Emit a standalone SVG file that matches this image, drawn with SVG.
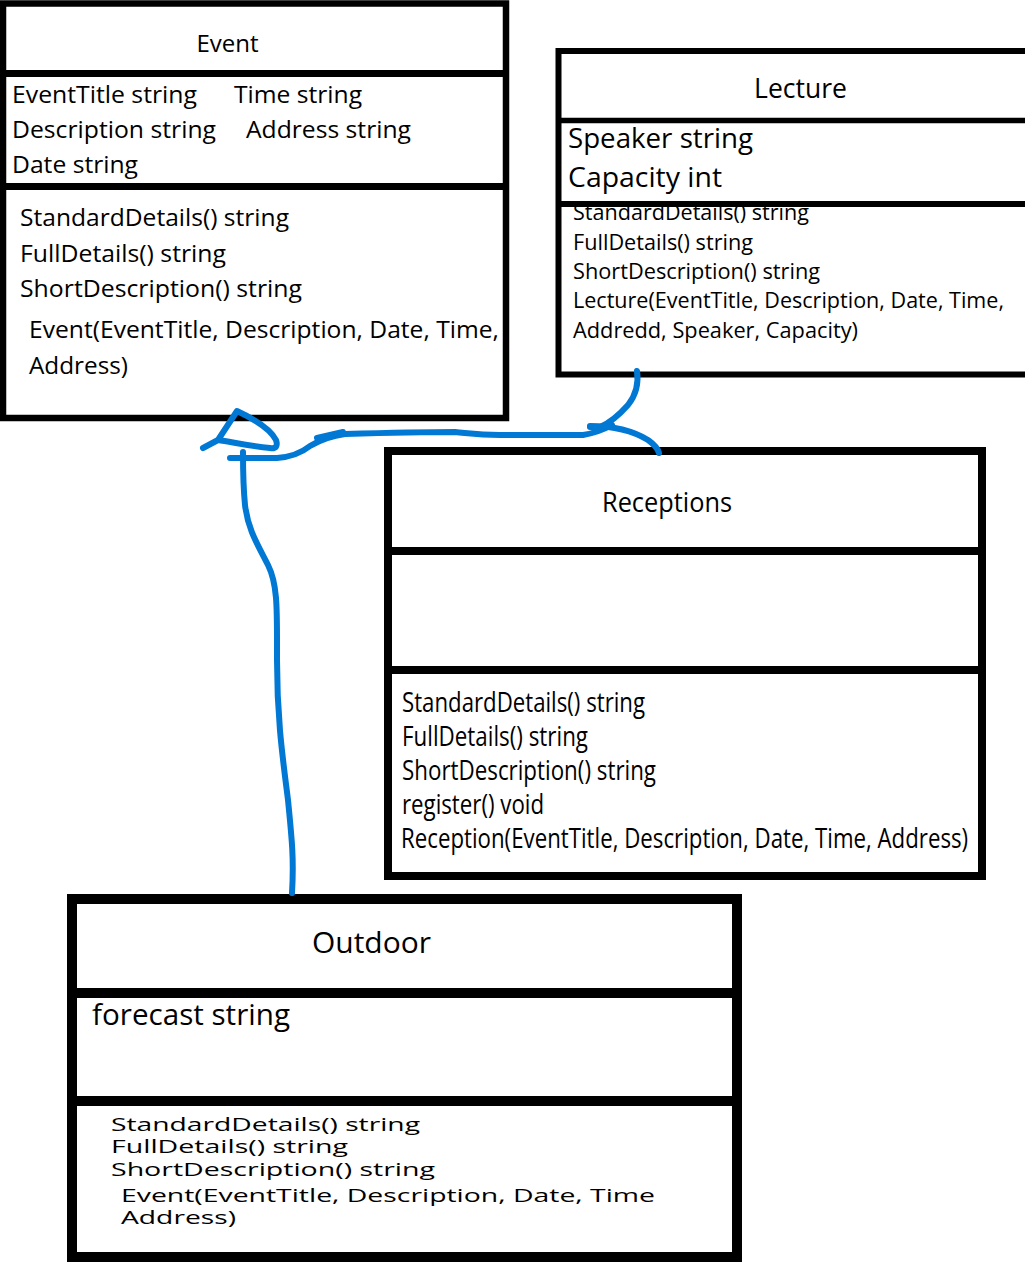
<svg xmlns="http://www.w3.org/2000/svg" width="1025" height="1265" viewBox="0 0 1025 1265">
<style>
  text { font-family: "Open Sans", "Noto Sans", "Liberation Sans", sans-serif; fill: #000; }
  .bg { fill: #fff; stroke: none; }
  .frame { fill: none; stroke: #000; }
  .ink { fill: none; stroke: #0078D4; stroke-width: 6; stroke-linecap: round; stroke-linejoin: round; }
</style>
<rect x="0" y="0" width="1025" height="1265" fill="#fff"/>

<g id="event">
  <rect class="bg" x="3" y="3.5" width="503" height="414.5"/>
  <text x="227.5" y="52" font-size="24" text-anchor="middle">Event</text>
  <text x="12" y="103" font-size="24.5" textLength="185" lengthAdjust="spacingAndGlyphs">EventTitle string</text>
  <text x="234" y="103" font-size="24.5" textLength="128" lengthAdjust="spacingAndGlyphs">Time string</text>
  <text x="12" y="138" font-size="24.5" textLength="204" lengthAdjust="spacingAndGlyphs">Description string</text>
  <text x="246" y="138" font-size="24.5" textLength="165" lengthAdjust="spacingAndGlyphs">Address string</text>
  <text x="12" y="173" font-size="24.5" textLength="126" lengthAdjust="spacingAndGlyphs">Date string</text>
  <text x="20" y="226" font-size="24.5" textLength="269" lengthAdjust="spacingAndGlyphs">StandardDetails() string</text>
  <text x="20" y="262" font-size="24.5" textLength="206" lengthAdjust="spacingAndGlyphs">FullDetails() string</text>
  <text x="20" y="297" font-size="24.5" textLength="282" lengthAdjust="spacingAndGlyphs">ShortDescription() string</text>
  <text x="29" y="338" font-size="24.5" textLength="470" lengthAdjust="spacingAndGlyphs">Event(EventTitle, Description, Date, Time,</text>
  <text x="29" y="374" font-size="24.5" textLength="99" lengthAdjust="spacingAndGlyphs">Address)</text>
  <rect class="frame" stroke-width="6.5" x="3" y="3.5" width="503" height="414.5"/>
  <line class="frame" stroke-width="7" x1="3" y1="73.5" x2="506" y2="73.5"/>
  <line class="frame" stroke-width="7" x1="3" y1="186.5" x2="506" y2="186.5"/>
</g>

<g id="lecture">
  <rect class="bg" x="558.5" y="51" width="480" height="323.5"/>
  <text x="800.5" y="98" font-size="26.5" text-anchor="middle">Lecture</text>
  <text x="568" y="148" font-size="27.5" textLength="185" lengthAdjust="spacingAndGlyphs">Speaker string</text>
  <text x="568" y="187" font-size="27.5" textLength="154" lengthAdjust="spacingAndGlyphs">Capacity int</text>
  <text x="573" y="220" font-size="21.5" textLength="236" lengthAdjust="spacingAndGlyphs">StandardDetails() string</text>
  <text x="573" y="250" font-size="21.5" textLength="180" lengthAdjust="spacingAndGlyphs">FullDetails() string</text>
  <text x="573" y="279" font-size="21.5" textLength="247" lengthAdjust="spacingAndGlyphs">ShortDescription() string</text>
  <text x="573" y="308" font-size="21.5" textLength="431" lengthAdjust="spacingAndGlyphs">Lecture(EventTitle, Description, Date, Time,</text>
  <text x="573" y="338" font-size="21.5" textLength="285" lengthAdjust="spacingAndGlyphs">Addredd, Speaker, Capacity)</text>
  <rect class="frame" stroke-width="6" x="558.5" y="51" width="480" height="323.5"/>
  <line class="frame" stroke-width="5.5" x1="558.5" y1="120.5" x2="1030" y2="120.5"/>
  <line class="frame" stroke-width="6" x1="558.5" y1="204" x2="1030" y2="204"/>
</g>

<g id="receptions">
  <rect class="bg" x="388" y="451" width="594" height="425"/>
  <text x="602" y="512" font-size="26.5" textLength="130" lengthAdjust="spacingAndGlyphs">Receptions</text>
  <text x="402" y="712" font-size="27" textLength="243" lengthAdjust="spacingAndGlyphs">StandardDetails() string</text>
  <text x="402" y="746" font-size="27" textLength="186" lengthAdjust="spacingAndGlyphs">FullDetails() string</text>
  <text x="402" y="780" font-size="27" textLength="254" lengthAdjust="spacingAndGlyphs">ShortDescription() string</text>
  <text x="402" y="814" font-size="27" textLength="142" lengthAdjust="spacingAndGlyphs">register() void</text>
  <text transform="translate(401,848) scale(0.8,1)" x="0" y="0" font-size="27" textLength="709" lengthAdjust="spacingAndGlyphs">Reception(EventTitle, Description, Date, Time, Address)</text>
  <rect class="frame" stroke-width="8" x="388" y="451" width="594" height="425"/>
  <line class="frame" stroke-width="8" x1="388" y1="551" x2="982" y2="551"/>
  <line class="frame" stroke-width="8" x1="388" y1="670" x2="982" y2="670"/>
</g>

<g id="outdoor">
  <rect class="bg" x="72" y="899" width="665" height="358"/>
  <text x="312" y="953" font-size="30" textLength="119" lengthAdjust="spacingAndGlyphs">Outdoor</text>
  <text x="92" y="1025" font-size="29.5" textLength="198" lengthAdjust="spacingAndGlyphs">forecast string</text>
  <text x="111" y="1131" font-size="17.5" textLength="309" lengthAdjust="spacingAndGlyphs">StandardDetails() string</text>
  <text x="111" y="1153" font-size="17.5" textLength="237" lengthAdjust="spacingAndGlyphs">FullDetails() string</text>
  <text x="111" y="1176" font-size="17.5" textLength="324" lengthAdjust="spacingAndGlyphs">ShortDescription() string</text>
  <text x="121" y="1202" font-size="17.5" textLength="534" lengthAdjust="spacingAndGlyphs">Event(EventTitle, Description, Date, Time</text>
  <text x="121" y="1224" font-size="17.5" textLength="115" lengthAdjust="spacingAndGlyphs">Address)</text>
  <rect class="frame" stroke-width="10" x="72" y="899" width="665" height="358"/>
  <line class="frame" stroke-width="10" x1="72" y1="993" x2="737" y2="993"/>
  <line class="frame" stroke-width="10" x1="72" y1="1101" x2="737" y2="1101"/>
</g>

<g id="connectors">
  <path class="ink" d="M292,893 C294,860 292,840 288,800 C283,760 277,720 277,660 C277,610 278,585 268,565 C258,545 248,530 245,505 C243,485 243,470 243,452"/>
  <path class="ink" d="M203,448 L218,440 L237,411 C252,418 270,428 276,440 C278,446 276,449 270,448 C250,446 232,442 218,440"/>
  <path class="ink" d="M230,458 L277,458 C290,457 300,454 310,446 C320,440 330,436 345,434 C380,433 420,432 455,432 C475,434 480,435 500,435 L583,435 C595,433 603,430 612,425"/>
  <path class="ink" d="M317,438 L343,432"/>
  <path class="ink" d="M637,371 C639,385 636,395 628,405 C620,414 612,422 600,427 L590,427"/>
  <path class="ink" d="M590,426 C615,426 635,432 648,440 C655,445 658,449 659,453"/>
</g>
</svg>
